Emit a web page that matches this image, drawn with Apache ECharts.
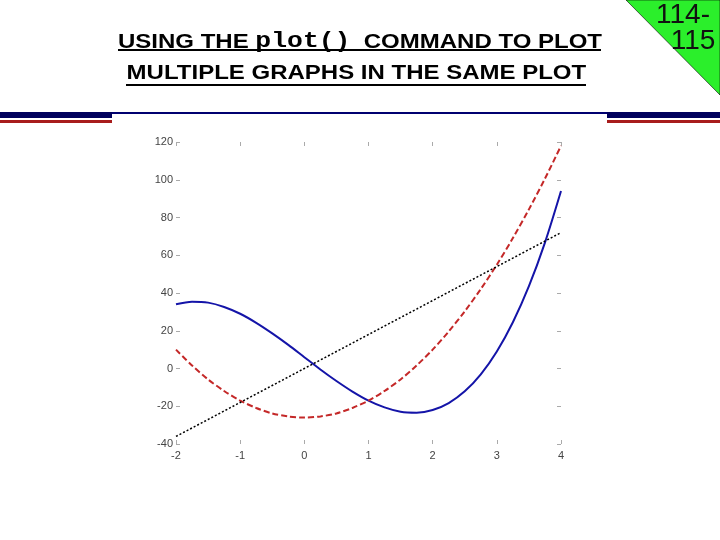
<!DOCTYPE html>
<html>
<head>
<meta charset="utf-8">
<script src="https://cdn.jsdelivr.net/npm/echarts@6/dist/echarts.min.js"></script>
<style>html,body{margin:0;padding:0;background:#fff;}#c{width:720px;height:540px;}</style>
</head>
<body>
<div id="c"></div>
<script>
// x values read along the horizontal axis
var xValues = [-2, -1.75, -1.5, -1.25, -1, -0.75, -0.5, -0.25, 0, 0.25, 0.5, 0.75, 1, 1.25, 1.5, 1.75, 2, 2.25, 2.5, 2.75, 3, 3.25, 3.5, 3.75, 4];
// blue solid curve
var blueValues = [34, 35.4, 34.9, 32.6, 29, 24.2, 18.6, 12.5, 6, -0.5, -6.6, -12.2, -17, -20.6, -22.9, -23.4, -22, -18.3, -12.1, -3.1, 9, 24.5, 43.6, 66.7, 94];
// red dashed curve
var redValues = [10, 1.6, -5.8, -11.9, -17, -20.9, -23.8, -25.4, -26, -25.4, -23.8, -20.9, -17, -11.9, -5.8, 1.6, 10, 19.6, 30.3, 42.1, 55, 69.1, 84.3, 100.6, 118];
// black dotted line
var blackValues = [-36, -31.5, -27, -22.5, -18, -13.5, -9, -4.5, 0, 4.5, 9, 13.5, 18, 22.5, 27, 31.5, 36, 40.5, 45, 49.5, 54, 58.5, 63, 67.5, 72];

var xTicks = {min: -2, max: 4, interval: 1};
var yTicks = {min: -40, max: 120, interval: 20};

var titleLine1a = 'USING THE ';
var titleCode = 'plot()';
var titleLine1b = '  COMMAND TO PLOT';
var titleLine2 = 'MULTIPLE GRAPHS IN THE SAME PLOT';
var pageLabel1 = '114-';
var pageLabel2 = '115';

function pairs(xs, ys) { return xs.map(function (x, i) { return [x, ys[i]]; }); }

var chart = echarts.init(document.getElementById('c'), null, {renderer: 'canvas'});
var tickStyle = {show: true, inside: true, length: 4, lineStyle: {color: '#aaa', width: 1}};
var labelStyle = {color: '#444', fontFamily: 'Liberation Sans, Arial, sans-serif', fontSize: 11};
var noLine = {show: false, onZero: false};

chart.setOption({
  animation: false,
  backgroundColor: '#ffffff',
  grid: {left: 176, right: 159, top: 142, bottom: 96, containLabel: false},
  xAxis: [
    {type: 'value', position: 'bottom', min: xTicks.min, max: xTicks.max, interval: xTicks.interval,
     axisLine: noLine, axisTick: tickStyle, splitLine: {show: false},
     axisLabel: Object.assign({margin: 6}, labelStyle)},
    {type: 'value', position: 'top', min: xTicks.min, max: xTicks.max, interval: xTicks.interval,
     axisLine: noLine, axisTick: tickStyle, splitLine: {show: false}, axisLabel: {show: false}}
  ],
  yAxis: [
    {type: 'value', position: 'left', min: yTicks.min, max: yTicks.max, interval: yTicks.interval,
     axisLine: noLine, axisTick: tickStyle, splitLine: {show: false},
     axisLabel: Object.assign({margin: 3}, labelStyle)},
    {type: 'value', position: 'right', min: yTicks.min, max: yTicks.max, interval: yTicks.interval,
     axisLine: noLine, axisTick: tickStyle, splitLine: {show: false}, axisLabel: {show: false}}
  ],
  series: [
    {type: 'line', name: 'y', data: pairs(xValues, blueValues), showSymbol: false, smooth: 0.3,
     lineStyle: {color: '#1414a8', width: 2}},
    {type: 'line', name: "y'", data: pairs(xValues, redValues), showSymbol: false, smooth: 0.3,
     lineStyle: {color: '#c42828', width: 2, type: [6, 3]}},
    {type: 'line', name: "y''", data: pairs(xValues, blackValues), showSymbol: false,
     lineStyle: {color: '#000000', width: 1.5, type: [2, 2]}}
  ],
  graphic: [
    {type: 'polygon', shape: {points: [[626, 0], [720, 0], [720, 95]]}, style: {fill: '#2bef2b', stroke: '#000', lineWidth: 0.6}},
    {type: 'text', x: 683, y: 15, style: {text: pageLabel1, font: '28px "Liberation Sans", Arial, sans-serif', fill: '#111', textAlign: 'center', textVerticalAlign: 'middle'}},
    {type: 'text', x: 693, y: 41, style: {text: pageLabel2, font: '28px "Liberation Sans", Arial, sans-serif', fill: '#111', textAlign: 'center', textVerticalAlign: 'middle'}},
    {type: 'group', x: 360, y: 0, scaleX: 1.2, children: [
      {type: 'text', x: 0, y: 39, style: {
        text: '{a|' + titleLine1a + '}{c|' + titleCode + '}{a|' + titleLine1b + '}',
        textAlign: 'center', textVerticalAlign: 'middle',
        rich: {
          a: {font: 'bold 20px "Liberation Sans", Arial, sans-serif', fill: '#000', lineHeight: 26, verticalAlign: 'bottom'},
          c: {font: 'bold 22px "Liberation Mono", "Courier New", monospace', fill: '#000', lineHeight: 26, verticalAlign: 'bottom'}
        }}},
      {type: 'text', x: -3, y: 73, style: {
        text: titleLine2, font: 'bold 20px "Liberation Sans", Arial, sans-serif', fill: '#000',
        textAlign: 'center', textVerticalAlign: 'middle'}}
    ]},
    {type: 'rect', shape: {x: 118, y: 49, width: 483, height: 2}, style: {fill: '#000'}},
    {type: 'rect', shape: {x: 126, y: 84, width: 460, height: 2}, style: {fill: '#000'}},
    {type: 'rect', shape: {x: 0, y: 112, width: 720, height: 2}, style: {fill: '#000070'}},
    {type: 'rect', shape: {x: 0, y: 112, width: 112, height: 6}, style: {fill: '#00005c'}},
    {type: 'rect', shape: {x: 607, y: 112, width: 113, height: 6}, style: {fill: '#00005c'}},
    {type: 'rect', shape: {x: 0, y: 120, width: 112, height: 3}, style: {fill: '#a81c1c'}},
    {type: 'rect', shape: {x: 607, y: 120, width: 113, height: 3}, style: {fill: '#a81c1c'}}
  ]
});
</script>
</body>
</html>
